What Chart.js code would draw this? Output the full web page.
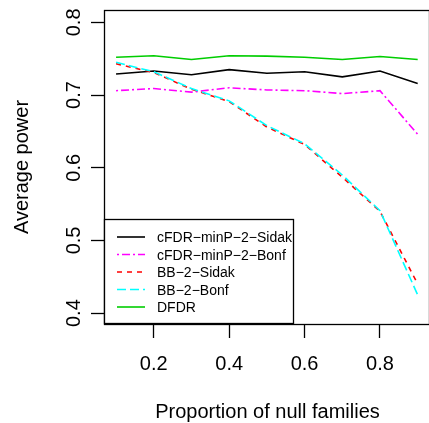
<!DOCTYPE html>
<html>
<head>
<meta charset="utf-8">
<script src="https://cdn.jsdelivr.net/npm/chart.js@4.4.1/dist/chart.umd.min.js"></script>
<style>
  html, body { margin: 0; padding: 0; background: #fff; overflow: hidden; }
  #chart { display: block; }
</style>
</head>
<body>
<canvas id="chart" width="429" height="423"></canvas>
<script>
// Average power vs proportion of null families

const proportions = [0.1, 0.2, 0.3, 0.4, 0.5, 0.6, 0.7, 0.8, 0.9];
const cfdrSidak = [0.729, 0.733, 0.728, 0.735, 0.730, 0.732, 0.725, 0.733, 0.716];
const cfdrBonf  = [0.706, 0.709, 0.704, 0.710, 0.707, 0.706, 0.702, 0.706, 0.646];
const bbSidak   = [0.743, 0.731, 0.708, 0.691, 0.656, 0.632, 0.587, 0.540, 0.440];
const bbBonf    = [0.745, 0.732, 0.709, 0.692, 0.658, 0.633, 0.590, 0.541, 0.425];
const dfdr      = [0.752, 0.754, 0.749, 0.754, 0.7535, 0.752, 0.749, 0.753, 0.749];

const seriesNames = ['cFDR\u2212minP\u22122\u2212Sidak', 'cFDR\u2212minP\u22122\u2212Bonf', 'BB\u22122\u2212Sidak', 'BB\u22122\u2212Bonf', 'DFDR'];
const xTicks = [0.2, 0.4, 0.6, 0.8];
const yTicks = [0.4, 0.5, 0.6, 0.7, 0.8];

const FONT = '"Liberation Sans", Arial, Helvetica, sans-serif';

function toPoints(values) {
  return proportions.map((p, i) => ({ x: p, y: values[i] }));
}

function series(label, values, color, dash, order) {
  return {
    label: label,
    data: toPoints(values),
    borderColor: color,
    borderWidth: 1.6,
    borderDash: dash,
    pointRadius: 0,
    tension: 0,
    fill: false,
    order: order
  };
}

// R-style frame, tick labels, titles and legend
const rDecorations = {
  id: 'rDecorations',
  afterDraw(chart) {
    const ctx = chart.ctx;
    const area = chart.chartArea;
    const xs = chart.scales.x;
    const ys = chart.scales.y;
    ctx.save();

    // frame
    ctx.strokeStyle = '#000';
    ctx.lineWidth = 1.3;
    ctx.strokeRect(area.left + 0.5, area.top + 0.5, area.right - area.left, area.bottom - area.top);

    // tick labels
    ctx.fillStyle = '#000';
    ctx.font = '20px ' + FONT;
    ctx.textAlign = 'center';
    ctx.textBaseline = 'alphabetic';
    xs.ticks.forEach(t => {
      ctx.fillText(t.value.toFixed(1), xs.getPixelForValue(t.value), 370);
    });
    ys.ticks.forEach(t => {
      ctx.save();
      ctx.translate(80, ys.getPixelForValue(t.value));
      ctx.rotate(-Math.PI / 2);
      ctx.fillText(t.value.toFixed(1), 0, 0);
      ctx.restore();
    });

    // axis titles
    ctx.fillText('Proportion of null families', (area.left + area.right) / 2 + 1, 418);
    ctx.save();
    ctx.translate(28, (area.top + area.bottom) / 2);
    ctx.rotate(-Math.PI / 2);
    ctx.fillText('Average power', 0, 0);
    ctx.restore();

    // legend
    const box = { left: 104.5, top: 219.5, width: 189, height: 104 };
    ctx.fillStyle = '#fff';
    ctx.fillRect(box.left, box.top, box.width, box.height);
    ctx.strokeStyle = '#000';
    ctx.lineWidth = 1.3;
    ctx.strokeRect(box.left, box.top, box.width, box.height);

    ctx.font = '14px ' + FONT;
    ctx.textAlign = 'left';
    chart.data.datasets.forEach((ds, i) => {
      const y = 237 + i * 17.5;
      ctx.strokeStyle = ds.borderColor;
      ctx.lineWidth = ds.borderWidth;
      ctx.setLineDash(ds.borderDash);
      ctx.beginPath();
      ctx.moveTo(117, y);
      ctx.lineTo(145, y);
      ctx.stroke();
      ctx.setLineDash([]);
      ctx.fillStyle = '#000';
      ctx.fillText(ds.label, 157, y + 5);
    });

    ctx.restore();
  }
};

new Chart(document.getElementById('chart'), {
  type: 'line',
  data: {
    datasets: [
      series(seriesNames[0], cfdrSidak, '#000000', [], 5),
      series(seriesNames[1], cfdrBonf, '#ff00ff', [2, 3, 8, 3], 4),
      series(seriesNames[2], bbSidak, '#ff0000', [5, 5], 3),
      series(seriesNames[3], bbBonf, '#00ffff', [9, 4], 2),
      series(seriesNames[4], dfdr, '#00cd00', [], 1)
    ]
  },
  options: {
    responsive: false,
    animation: false,
    layout: { padding: { top: 10, right: 0, bottom: 0, left: 0 } },
    plugins: {
      legend: { display: false },
      tooltip: { enabled: false }
    },
    scales: {
      x: {
        type: 'linear',
        min: 0.068,
        max: 0.93,
        afterBuildTicks: s => { s.ticks = xTicks.map(v => ({ value: v })); },
        afterFit: s => { s.height = 99; },
        grid: { drawOnChartArea: false, drawTicks: true, tickLength: 14, tickColor: '#000', tickWidth: 1.3 },
        border: { display: false },
        ticks: { display: false }
      },
      y: {
        type: 'linear',
        min: 0.385,
        max: 0.817,
        afterBuildTicks: s => { s.ticks = yTicks.map(v => ({ value: v })); },
        afterFit: s => { s.width = 104; },
        grid: { drawOnChartArea: false, drawTicks: true, tickLength: 13, tickColor: '#000', tickWidth: 1.3 },
        border: { display: false },
        ticks: { display: false }
      }
    }
  },
  plugins: [rDecorations]
});
</script>
</body>
</html>
